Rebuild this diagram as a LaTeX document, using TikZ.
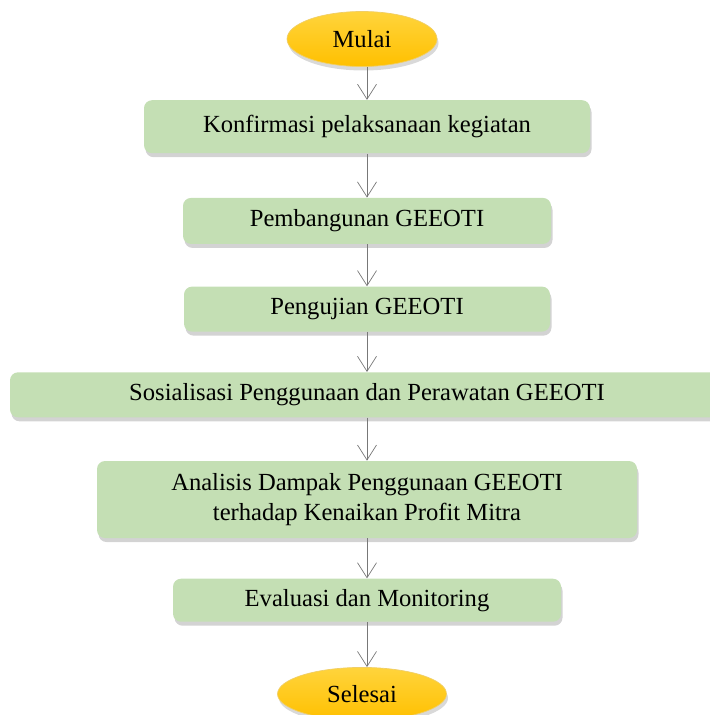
\documentclass[tikz,border=0pt]{standalone}
\usepackage{fontspec}
\setmainfont{Liberation Serif}
\usepackage{tikz}
\usetikzlibrary{positioning, shapes.geometric, arrows.meta, shadows}
\definecolor{boxgreen}{RGB}{196,223,180}
\definecolor{termgold}{RGB}{255,192,0}
\definecolor{termlight}{RGB}{255,212,60}
\definecolor{arrowgray}{RGB}{120,120,120}

\begin{document}
\begin{tikzpicture}[font=\fontsize{14}{17.5}\selectfont,
  stepbox/.style={rectangle, rounded corners=0.16cm, fill=boxgreen, draw=none, align=center,
    drop shadow={opacity=0.35, shadow xshift=0.3mm, shadow yshift=-0.8mm}},
  terminal/.style={ellipse, inner sep=0pt, top color=termlight, bottom color=termgold, draw=termgold!90!black!60,
    drop shadow={opacity=0.3, shadow xshift=0.3mm, shadow yshift=-0.8mm}},
  flow/.style={draw=arrowgray, thin, -{Straight Barb[length=3mm, width=3.8mm]}}]
  \useasboundingbox (0,0) rectangle (14.18,-14.3);
  \node[terminal, minimum width=3.0cm, minimum height=1.1cm] (mulai) at (7.24,-0.78) {Mulai};
  \node[stepbox, minimum width=8.92cm, minimum height=1.06cm, below=0.66cm of mulai, xshift=0.1cm] (konfirmasi) {Konfirmasi pelaksanaan kegiatan};
  \node[stepbox, minimum width=7.36cm, minimum height=0.92cm, below=0.88cm of konfirmasi] (pembangunan) {Pembangunan GEEOTI};
  \node[stepbox, minimum width=7.32cm, minimum height=0.9cm, below=0.84cm of pembangunan] (pengujian) {Pengujian GEEOTI};
  \node[stepbox, minimum width=14.28cm, minimum height=0.9cm, below=0.8cm of pengujian] (sosialisasi) {Sosialisasi Penggunaan dan Perawatan GEEOTI};
  \node[stepbox, minimum width=10.8cm, minimum height=1.54cm, below=0.86cm of sosialisasi] (analisis) {Analisis Dampak Penggunaan GEEOTI\\terhadap Kenaikan Profit Mitra};
  \node[stepbox, minimum width=7.76cm, minimum height=0.86cm, below=0.8cm of analisis] (evaluasi) {Evaluasi dan Monitoring};
  \node[terminal, minimum width=3.38cm, minimum height=1.06cm, below=0.9cm of evaluasi, xshift=-0.1cm] (selesai) {Selesai};
  \draw[flow] (mulai.south -| konfirmasi) -- (konfirmasi);
  \draw[flow] (konfirmasi) -- (pembangunan);
  \draw[flow] (pembangunan) -- (pengujian);
  \draw[flow] (pengujian) -- (sosialisasi);
  \draw[flow] (sosialisasi) -- (analisis);
  \draw[flow] (analisis) -- (evaluasi);
  \draw[flow] (evaluasi) -- (selesai.north -| evaluasi);
\end{tikzpicture}
\end{document}
